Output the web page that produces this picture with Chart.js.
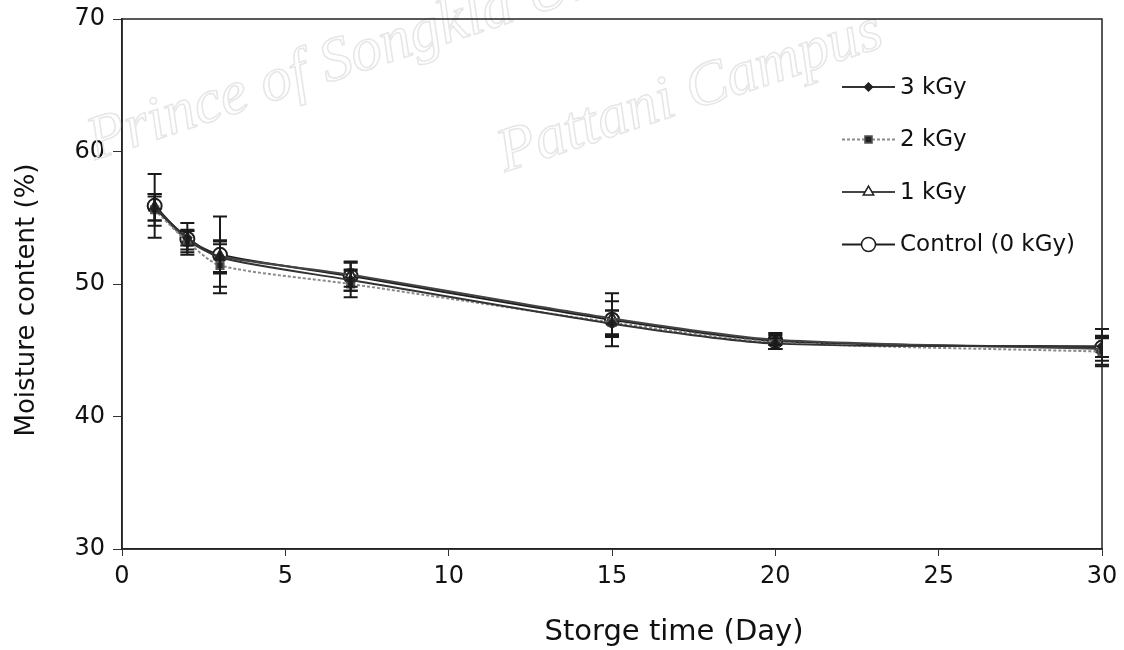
<!DOCTYPE html>
<html>
<head>
<meta charset="utf-8">
<title>Moisture content</title>
<script src="https://cdn.jsdelivr.net/npm/chart.js@4.4.1/dist/chart.umd.min.js"></script>
<style>
    html, body { margin: 0; padding: 0; background: #fff; }
    #wrap { width: 1124px; height: 650px; position: relative; }
</style>
</head>
<body>
<div id="wrap"><canvas id="moistureChart" width="1124" height="650"></canvas></div>
<script>
// storage days and moisture (%) per dose
const days = [1, 2, 3, 7, 15, 20, 30];

const moisture3kGy = [55.7, 53.5, 52.0, 50.3, 47.0, 45.5, 45.3];
const moisture2kGy = [55.6, 53.2, 51.4, 50.0, 47.1, 45.6, 44.9];
const moisture1kGy = [55.8, 53.3, 52.1, 50.7, 47.4, 45.8, 45.1];
const moistureControl = [55.9, 53.4, 52.2, 50.6, 47.3, 45.7, 45.2];

// standard deviations
const sd3kGy = [0.9, 0.6, 1.2, 0.8, 1.0, 0.4, 0.8];
const sd2kGy = [1.2, 0.8, 1.6, 1.0, 0.9, 0.5, 1.0];
const sd1kGy = [1.0, 0.7, 1.2, 0.9, 1.3, 0.4, 0.9];
const sdControl = [2.4, 1.2, 2.9, 1.1, 2.0, 0.6, 1.4];

const xTicks = [0, 5, 10, 15, 20, 25, 30];
const yTicks = [30, 40, 50, 60, 70];

const xTitle = "Storge time (Day)";
const yTitle = "Moisture content (%)";

const FONT = "'DejaVu Sans', 'Noto Sans', sans-serif";

function toPoints(vals) {
    return days.map((d, i) => ({ x: d, y: vals[i] }));
}

// vertical error bars with caps
const errorBarPlugin = {
    id: "errorBars",
    afterDatasetsDraw(chart) {
        const ctx = chart.ctx;
        const xs = chart.scales.x;
        const ys = chart.scales.y;
        ctx.save();
        chart.data.datasets.forEach(ds => {
            if (!ds.sd) return;
            ctx.strokeStyle = "#1a1a1a";
            ctx.lineWidth = 2;
            ds.data.forEach((p, i) => {
                const px = xs.getPixelForValue(p.x);
                const top = ys.getPixelForValue(p.y + ds.sd[i]);
                const bot = ys.getPixelForValue(p.y - ds.sd[i]);
                ctx.beginPath();
                ctx.moveTo(px, top); ctx.lineTo(px, bot);
                ctx.moveTo(px - 7, top); ctx.lineTo(px + 7, top);
                ctx.moveTo(px - 7, bot); ctx.lineTo(px + 7, bot);
                ctx.stroke();
            });
        });
        ctx.restore();
    }
};

// frame, axis titles and faint campus watermark
const framePlugin = {
    id: "frame",
    beforeDatasetsDraw(chart) {
        const ctx = chart.ctx;
        ctx.save();
        ctx.font = "italic 62px 'Liberation Serif', serif";
        ctx.strokeStyle = "#e6e6e6";
        ctx.lineWidth = 1.5;
        ctx.translate(95, 160);
        ctx.rotate(-0.32);
        ctx.strokeText("Prince of Songkla University", 0, 0);
        ctx.restore();
        ctx.save();
        ctx.font = "italic 62px 'Liberation Serif', serif";
        ctx.strokeStyle = "#e6e6e6";
        ctx.lineWidth = 1.5;
        ctx.translate(505, 172);
        ctx.rotate(-0.32);
        ctx.strokeText("Pattani Campus", 0, 0);
        ctx.restore();
    },
    afterDraw(chart) {
        const a = chart.chartArea;
        const ctx = chart.ctx;
        ctx.save();
        ctx.strokeStyle = "#222";
        ctx.lineWidth = 1.5;
        ctx.strokeRect(a.left, a.top, a.right - a.left, a.bottom - a.top);

        ctx.fillStyle = "#111";
        ctx.textAlign = "center";
        ctx.textBaseline = "middle";
        ctx.font = "29px " + FONT;
        ctx.fillText(xTitle, 674, 632);
        ctx.translate(27, 300);
        ctx.rotate(-Math.PI / 2);
        ctx.font = "26px " + FONT;
        ctx.fillText(yTitle, 0, 0);
        ctx.restore();
    }
};

// legend: short line with marker, label on the right
const legendPlugin = {
    id: "lineLegend",
    afterDraw(chart) {
        const ctx = chart.ctx;
        const x0 = 842, x1 = 895, yStart = 87, gap = 52.5;
        ctx.save();
        ctx.font = "23px " + FONT;
        ctx.textBaseline = "middle";
        chart.data.datasets.forEach((ds, i) => {
            const y = yStart + i * gap;
            ctx.strokeStyle = ds.borderColor;
            ctx.lineWidth = ds.borderWidth;
            ctx.setLineDash(ds.borderDash || []);
            ctx.beginPath();
            ctx.moveTo(x0, y); ctx.lineTo(x1, y);
            ctx.stroke();
            ctx.setLineDash([]);
            ctx.fillStyle = ds.pointBackgroundColor;
            ctx.strokeStyle = ds.pointBorderColor;
            ctx.lineWidth = 1.5;
            Chart.helpers.drawPoint(ctx, {
                pointStyle: ds.pointStyle,
                radius: ds.pointRadius,
                rotation: 0,
                borderWidth: 1.5
            }, (x0 + x1) / 2, y);
            ctx.fillStyle = "#111";
            ctx.fillText(ds.label, x1 + 5, y + 1);
        });
        ctx.restore();
    }
};

new Chart(document.getElementById("moistureChart"), {
    type: "line",
    data: {
        datasets: [
            {
                label: "3 kGy",
                data: toPoints(moisture3kGy),
                sd: sd3kGy,
                borderColor: "#333",
                borderWidth: 2,
                pointStyle: "rectRot",
                pointRadius: 4,
                pointBackgroundColor: "#222",
                pointBorderColor: "#222"
            },
            {
                label: "2 kGy",
                data: toPoints(moisture2kGy),
                sd: sd2kGy,
                borderColor: "#8a8a8a",
                borderWidth: 2,
                borderDash: [3, 2],
                pointStyle: "rect",
                pointRadius: 5,
                pointBackgroundColor: "#222",
                pointBorderColor: "#555"
            },
            {
                label: "1 kGy",
                data: toPoints(moisture1kGy),
                sd: sd1kGy,
                borderColor: "#444",
                borderWidth: 2,
                pointStyle: "triangle",
                pointRadius: 6,
                pointBackgroundColor: "#fff",
                pointBorderColor: "#222"
            },
            {
                label: "Control (0 kGy)",
                data: toPoints(moistureControl),
                sd: sdControl,
                borderColor: "#1e1e1e",
                borderWidth: 2,
                pointStyle: "circle",
                pointRadius: 7,
                pointBackgroundColor: "#fff",
                pointBorderColor: "#1e1e1e"
            }
        ]
    },
    options: {
        responsive: false,
        animation: false,
        devicePixelRatio: 1,
        layout: { padding: { top: 19, right: 22, left: 0, bottom: 0 } },
        plugins: {
            legend: { display: false },
            tooltip: { enabled: false }
        },
        elements: {
            point: { borderWidth: 1.5 },
            line: { tension: 0.25 }
        },
        scales: {
            x: {
                type: "linear",
                min: 0,
                max: 30,
                afterBuildTicks: axis => { axis.ticks = xTicks.map(v => ({ value: v })); },
                afterFit: axis => { axis.height = 101; axis.paddingLeft = 0; axis.paddingRight = 0; },
                grid: { drawOnChartArea: false, drawTicks: true, tickLength: 7, color: "#333" },
                border: { display: true, color: "#222", width: 1.5 },
                ticks: { color: "#111", font: { family: FONT, size: 24 }, padding: 6, maxRotation: 0 }
            },
            y: {
                min: 30,
                max: 70,
                afterBuildTicks: axis => { axis.ticks = yTicks.map(v => ({ value: v })); },
                afterFit: axis => { axis.width = 122; axis.paddingTop = 0; axis.paddingBottom = 0; },
                grid: { drawOnChartArea: false, drawTicks: true, tickLength: 9, color: "#333" },
                border: { display: true, color: "#222", width: 1.5 },
                ticks: { color: "#111", font: { family: FONT, size: 24 }, padding: 8 }
            }
        }
    },
    plugins: [framePlugin, errorBarPlugin, legendPlugin]
});
</script>
</body>
</html>
